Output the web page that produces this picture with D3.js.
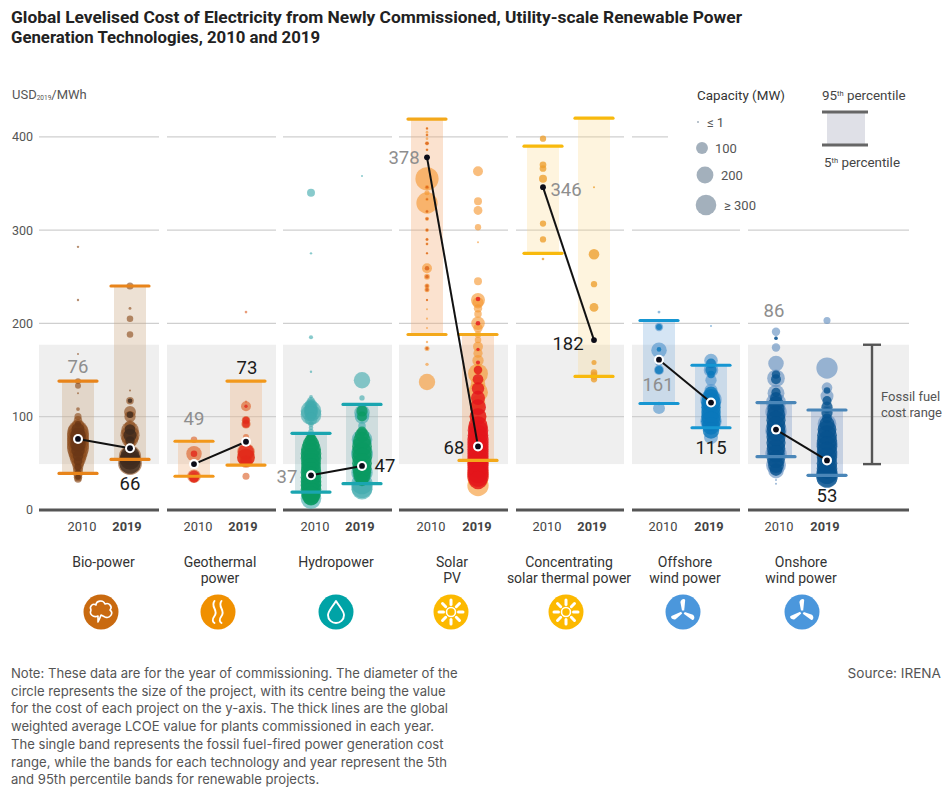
<!DOCTYPE html>
<html><head><meta charset="utf-8">
<script src="https://cdn.jsdelivr.net/npm/d3@7/dist/d3.min.js"></script>
<style>
html,body{margin:0;padding:0;background:#fff}
svg{display:block}
text{font-family:Roboto,"Noto Sans",sans-serif}
</style></head><body><div id="c"></div>
<script>
const technologies = ["Bio-power","Geothermal power","Hydropower","Solar PV","Concentrating solar thermal power","Offshore wind power","Onshore wind power"];
const techLabels = [["Bio-power"],["Geothermal","power"],["Hydropower"],["Solar","PV"],["Concentrating","solar thermal power"],["Offshore","wind power"],["Onshore","wind power"]];
const years = ["2010","2019"];
const yTicks = [0,100,200,300,400];
const fossilRange = [49,177];
// weighted averages [2010, 2019]
const average = [[76,66],[49,73],[37,47],[378,68],[346,182],[161,115],[86,53]];
// 5th / 95th percentiles [[p5,p95] 2010, [p5,p95] 2019]
const percentiles = [
 [[39,138],[54,240]],
 [[36,73.5],[48,138]],
 [[19,82],[28,113]],
 [[188,419],[53,188]],
 [[275,390],[143,420]],
 [[114,203],[88,155]],
 [[57,115],[37,107]]
];
// project points: [LCOE, capacity MW]
const bio2010 = [[282,4],[225,4],[167,2],[138,25],[133,25],[125,2],[108,10],[100,35],[96,50],[90,120],[85,280],[82,340],[78,340],[74,340],[70,340],[66,340],[62,280],[58,220],[54,170],[50,110],[46,80],[42,70],[38,60],[35,50],[33,40]];
const bio2010Core = [[92,25],[86,120],[80,170],[76,170],[70,170],[64,130],[58,80],[52,50],[46,35],[40,25],[35,20]];
const bio2019 = [[240,35],[216,6],[205,30],[188,30],[128,3],[117,40],[105,100],[100,90],[90,90],[85,220],[80,260],[76,200],[72,90],[68,40],[62,80],[57,350],[50,400]];
const bio2019Core = [[117,15],[102,30],[86,80],[80,120],[74,60],[58,260],[54,300],[50,320]];
const geo2010 = [[75,30],[60,170],[50,8],[47,6],[36,130]];
const geo2010Core = [[60,30],[36,90],[34,60]];
const geo2019 = [[212,5],[116,3],[111,70],[96,50],[92,60],[78,25],[62,220],[56,220],[52,120],[36,35]];
const geo2019Core = [[111,8],[96,35],[92,40],[62,180],[56,220],[52,90]];
const hydro2010 = [[340,45],[275,4],[185,12],[148,4],[121,10],[117,40],[112,120],[106,300],[102,300],[98,120],[92,20],[88,15],[84,20],[80,30],[112,80],[108,120],[106,140],[104,120],[100,60],[12,300]];
const hydro2010Core = [[78,60],[74,120],[70,200],[65,280],[60,300],[55,300],[50,280],[45,280],[40,300],[35,300],[30,300],[26,300],[22,300],[18,280],[15,240],[13,170]];
const hydro2019 = [[358,1],[139,190],[120,20],[108,60],[104,170],[100,150],[90,40],[28,320],[24,320],[22,300],[40,320],[60,340],[75,300]];
const hydro2019Core = [[106,90],[100,70],[84,70],[80,140],[74,230],[68,280],[62,280],[56,280],[50,280],[44,260],[40,240],[36,200],[32,110]];
const solar2010 = [[409,5],[405,5],[402,6],[398,5],[393,12],[386,6],[355,380],[346,14],[340,18],[333,8],[329,320],[320,8],[312,12],[300,10],[290,7],[285,6],[275,4],[259,70],[250,25],[240,18],[236,18],[225,4],[215,3],[205,3],[195,3],[188,4],[180,4],[173,18],[156,8],[137,190]];
const solar2010Core = [[409,2],[402,3],[393,8],[386,3],[346,6],[333,3],[320,4],[312,6],[300,5],[290,4],[285,3],[275,2],[259,14],[250,10],[240,8],[236,8],[225,2],[173,6]];
const solar2019 = [[363,70],[331,45],[321,55],[303,28],[287,1],[245,45],[225,140],[222,90],[216,50],[210,40],[200,130],[195,60],[188,30],[182,30],[175,70],[168,60],[160,90],[150,60],[146,280],[126,280],[135,150],[115,150],[110,150],[100,200],[90,250],[50,320],[40,320],[34,320],[26,320]];
const solar2019Core = [[226,15],[200,15],[172,8],[158,12],[150,50],[140,80],[130,110],[120,140],[110,180],[100,200],[90,260],[85,300],[80,300],[75,320],[70,320],[65,320],[60,320],[55,320],[50,320],[45,320],[40,320],[36,320],[32,240]];
const csp2010 = [[398,28],[370,32],[366,32],[355,45],[307,28],[290,28],[269,5]];
const csp2010Core = [];
const csp2019 = [[346,2],[274,80],[242,28],[217,55],[158,18],[147,32],[145,28],[143,32],[140,28]];
const csp2019Core = [];
const off2010 = [[212,6],[196,50],[171,170],[158,40],[150,70],[109,100]];
const off2010Core = [[196,25],[172,15],[150,45],[114,8]];
const off2019 = [[197,1],[160,130],[150,150],[139,90],[128,120],[118,320],[95,320],[78,140]];
const off2019Core = [[157,70],[150,90],[145,40],[125,130],[120,220],[115,270],[110,270],[105,270],[100,270],[95,270],[90,220],[85,190]];
const on2010 = [[191,50],[184,10],[174,50],[157,170],[141,220],[125,200],[115,280],[105,320],[85,320],[60,320],[48,280],[42,170],[32,1],[28,3]];
const on2010Core = [[184,8],[145,50],[140,70],[126,60],[120,100],[114,160],[108,210],[102,240],[96,260],[90,260],[84,260],[78,260],[72,260],[66,240],[60,220],[54,220],[48,180],[43,110]];
const on2019 = [[203,35],[152,320],[131,80],[122,120],[108,40],[92,250],[70,330],[60,320],[36,320]];
const on2019Core = [[128,30],[117,60],[110,90],[104,90],[98,70],[92,160],[86,250],[80,280],[74,290],[68,290],[62,290],[56,290],[50,300],[44,300],[39,320],[35,320]];
const projects = [[bio2010,bio2019],[geo2010,geo2019],[hydro2010,hydro2019],[solar2010,solar2019],[csp2010,csp2019],[off2010,off2019],[on2010,on2019]];
const projectsCore = [[bio2010Core,bio2019Core],[geo2010Core,geo2019Core],[hydro2010Core,hydro2019Core],[solar2010Core,solar2019Core],[csp2010Core,csp2019Core],[off2010Core,off2019Core],[on2010Core,on2019Core]];
const legendCaps = [1,100,200,300];
const legendLabels = ["≤ 1","100","200","≥ 300"];
const titleLines = ["Global Levelised Cost of Electricity from Newly Commissioned, Utility-scale Renewable Power","Generation Technologies, 2010 and 2019"];
const noteLines = [
"Note: These data are for the year of commissioning. The diameter of the",
"circle represents the size of the project, with its centre being the value",
"for the cost of each project on the y-axis. The thick lines are the global",
"weighted average LCOE value for plants commissioned in each year.",
"The single band represents the fossil fuel-fired power generation cost",
"range, while the bands for each technology and year represent the 5th",
"and 95th percentile bands for renewable projects."];

// layout & style
const W=942,H=791;
const panelX=[[39,159],[167,276],[283,392],[399,508],[516,624],[632,740],[748,909]];
const colX=[[78,130],[194,246],[311,362],[427,478],[543,594],[659,711],[776,827]];
const yearX=[[82,127],[198,243],[315,360],[431,477],[547,592],[663,709],[779,825]];
const labelX=[103.5,220,336,452,569,685,801];
const iconX=[101,218,336,451,566,683,802];
const haloCol=["#8a4a1a","#dc5f26","#3fa9ad","#f5962e","#eda02f","#4f93cc","#5f8dbf"];
const coreCol=[["#6a3716","#3f2a1e"],["#e2291a","#e2291a"],["#0a9a62","#0a9a62"],["#d9601a","#e3151c"],["#eda02f","#eda02f"],["#0a78bb","#0a78bb"],["#07528f","#07528f"]];
const bandCol=["#c8a47c","#f0b07c","#8fb8bd","#f4a86e","#fbd98a","#7fb1de","#6f93c4"];
const capCol=["#e8841a","#f2981b","#1aa5b0","#f3a81a","#f8b90c","#1696d2","#4a86b8"];
const iconCol=["#c96a10","#f09000","#00a3a6","#fcb900","#fcb900","#4b97dc","#4b97dc"];
const valueLabelPos=[[[78,372.5],[130,490]],[[194,425],[247,373.5]],[[287,482.5],[385,471.5]],[[404,163.5],[454,454]],[[566,195.5],[568,349.5]],[[658,391],[711,454]],[[774,317],[827,502]]];
const ringed=[[1,1],[1,1],[1,1],[0,1],[0,0],[1,1],[1,1]];

const svg=d3.select("#c").append("svg").attr("width",W).attr("height",H);
const y=d3.scaleLinear().domain([0,400]).range([509.8,136.8]);
const r=d3.scaleSqrt().domain([0,300]).range([0,10.3]);
const rad=c=>Math.max(1,r(c));

// title
const titleWidth=[731,309];
svg.selectAll("text.title").data(titleLines).join("text")
 .attr("class","title").attr("x",11).attr("y",(d,i)=>22.5+i*20.8)
 .attr("textLength",(d,i)=>titleWidth[i]).attr("lengthAdjust","spacingAndGlyphs")
 .style("font-weight",700).style("font-size","17.4px").attr("fill","#222").text(d=>d);

// unit
const u=svg.append("text").attr("x",12).attr("y",99).attr("fill","#555").style("font-size","13px");
u.append("tspan").text("USD");
u.append("tspan").style("font-size","6.5px").attr("dy",1).text("2019");
u.append("tspan").attr("dy",-1).text("/MWh");

// panels
technologies.forEach((t,i)=>{
 const [x0,x1]=panelX[i];
 const g=svg.append("g");
 g.append("rect").attr("x",x0).attr("width",x1-x0).attr("y",y(fossilRange[1])).attr("height",y(fossilRange[0])-y(fossilRange[1])).attr("fill","#efefef");
 const ticks=yTicks.filter(v=>v>0&&!(i==6&&v==400));
 g.selectAll("line.grid").data(ticks).join("line").attr("class","grid")
  .attr("x1",x0).attr("x2",d=>(i==5&&d==400)?668:x1).attr("y1",d=>y(d)).attr("y2",d=>y(d))
  .attr("stroke","#cfcfcf").attr("stroke-width",1.3);
 g.append("line").attr("x1",x0).attr("x2",x1).attr("y1",510).attr("y2",510).attr("stroke","#555").attr("stroke-width",3);
});

// y axis
const ax=svg.append("g").attr("transform","translate(33,0)").call(d3.axisLeft(y).tickValues(yTicks).tickSize(0).tickPadding(0));
ax.select(".domain").remove();
ax.selectAll("text").attr("fill","#555").style("font-size","12.5px").style("font-family","Roboto,sans-serif");

// bands, dots, caps
technologies.forEach((t,i)=>{
 const g=svg.append("g");
 years.forEach((yr,j)=>{
  const cx=colX[i][j],[p5,p95]=percentiles[i][j];
  g.append("rect").attr("x",cx-16).attr("width",32).attr("y",y(p95)).attr("height",y(p5)-y(p95)).attr("fill",bandCol[i]).attr("opacity",i==4?.28:.33);
  g.selectAll(null).data(projects[i][j]).join("circle").attr("cx",cx).attr("cy",d=>y(d[0])).attr("r",d=>rad(d[1])).attr("fill",haloCol[i]).attr("opacity",i==4?.8:.62);
  g.selectAll(null).data(projectsCore[i][j]).join("circle").attr("cx",cx).attr("cy",d=>y(d[0])).attr("r",d=>rad(d[1])).attr("fill",coreCol[i][j]).attr("opacity",.8);
  g.selectAll(null).data([p5,p95]).join("line").attr("x1",cx-19).attr("x2",cx+19).attr("y1",d=>y(d)).attr("y2",d=>y(d)).attr("stroke",capCol[i]).attr("stroke-width",3.2).attr("stroke-linecap","round");
 });
});

// averages
technologies.forEach((t,i)=>{
 const g=svg.append("g");
 const a=average[i];
 g.append("line").attr("x1",colX[i][0]).attr("x2",colX[i][1]).attr("y1",y(a[0])).attr("y2",y(a[1])).attr("stroke","#111").attr("stroke-width",2);
 years.forEach((yr,j)=>{
  if(ringed[i][j]) g.append("circle").attr("cx",colX[i][j]).attr("cy",y(a[j])).attr("r",5).attr("fill","#fff");
  g.append("circle").attr("cx",colX[i][j]).attr("cy",y(a[j])).attr("r",2.9).attr("fill","#0c0c18");
  g.append("text").attr("x",valueLabelPos[i][j][0]).attr("y",valueLabelPos[i][j][1]).attr("text-anchor","middle")
   .attr("fill",j==0?"#8e8e8e":"#1c1c1c").style("font-size","18.5px").text(a[j]);
  svg.append("text").attr("x",yearX[i][j]).attr("y",531).attr("text-anchor","middle").attr("fill","#444").style("font-weight",j?700:400).style("font-size","12.8px").text(yr);
 });
 techLabels[i].forEach((l,k)=>svg.append("text").attr("x",labelX[i]).attr("y",566.5+k*16.4).attr("text-anchor","middle").attr("fill","#333").style("font-size","14px").text(l));
});

// icons
const icon=(i)=>{
 const g=svg.append("g").attr("transform",`translate(${iconX[i]},612)`);
 g.append("circle").attr("r",17.5).attr("fill",iconCol[i]);
 const s=(sel)=>sel.attr("fill","none").attr("stroke","#fff").attr("stroke-width",1.6).attr("stroke-linecap","round").attr("stroke-linejoin","round");
 if(i==0){
  s(g.append("path")).attr("d","M-3,10 L-3,4 C-8,6 -12,2 -10,-2 C-12,-6 -8,-9 -5,-7 C-5,-11 2,-13 4,-8 C8,-10 12,-5 9,-2 C13,1 9,7 4,5 L0,3 C-1,6 -2,8 -3,10Z");
 } else if(i==1){
  s(g.append("path")).attr("stroke-width",1.9).attr("d","M-3.5,-11 C-8,-5 1,-2 -3.5,4 C-6.5,8 -5,10 -3.5,11 M3.5,-11 C-1,-5 8,-2 3.5,4 C0.5,8 2,10 3.5,11");
 } else if(i==2){
  s(g.append("path")).attr("stroke-width",1.9).attr("d","M0,-11 C3,-6 8,-1 8,3 C8,8 4,11 0,11 C-4,11 -8,8 -8,3 C-8,-1 -3,-6 0,-11Z");
 } else if(i==3||i==4){
  s(g.append("circle")).attr("r",4.5);
  d3.range(8).forEach(k=>{
   s(g.append("line")).attr("x1",0).attr("x2",0).attr("y1",-7.5).attr("y2",-12).attr("stroke-width",3).attr("transform",`rotate(${k*45})`);
  });
 } else {
  [0,120,240].forEach(a=>g.append("path").attr("d","M-1,-1.5 L-2.6,-10 C-2,-13 1.5,-14 2.2,-12 L1.2,-1.5Z").attr("fill","#fff").attr("transform",`rotate(${a})`));
 }
};
technologies.forEach((t,i)=>icon(i));

// legend
svg.append("text").attr("x",697).attr("y",100).attr("fill","#333").style("font-size","13.4px").text("Capacity (MW)");
const legendPos=[[698,122,707],[702,148,715],[705,175,721],[706,205,724]];
legendCaps.forEach((c,i)=>{
 svg.append("circle").attr("cx",legendPos[i][0]).attr("cy",legendPos[i][1]).attr("r",rad(c)).attr("fill","#9eacb8").attr("opacity",.95);
 svg.append("text").attr("x",legendPos[i][2]).attr("y",legendPos[i][1]+4.5).attr("fill","#555").style("font-size","13px").text(legendLabels[i]);
});
const pct=(x,yy,a)=>{const t=svg.append("text").attr("x",x).attr("y",yy).attr("fill","#444").style("font-size","13.4px");
 t.append("tspan").text(a);t.append("tspan").attr("dy",-4).style("font-size","7.5px").text("th");t.append("tspan").attr("dy",4).text(" percentile");};
pct(822,100,"95");
pct(824,167,"5");
svg.append("rect").attr("x",827).attr("y",112).attr("width",38).attr("height",33).attr("fill","#dfe0e7");
[112,145].forEach(v=>svg.append("line").attr("x1",822).attr("x2",868).attr("y1",v).attr("y2",v).attr("stroke","#666").attr("stroke-width",3.2));

// fossil bracket
const bx=872;
svg.append("line").attr("x1",bx).attr("x2",bx).attr("y1",y(fossilRange[1])).attr("y2",y(fossilRange[0])).attr("stroke","#555").attr("stroke-width",2.4);
fossilRange.forEach(v=>svg.append("line").attr("x1",bx-9).attr("x2",bx+9).attr("y1",y(v)).attr("y2",y(v)).attr("stroke","#555").attr("stroke-width",2.4));
["Fossil fuel","cost range"].forEach((l,i)=>svg.append("text").attr("x",881).attr("y",401+i*16).attr("fill","#555").style("font-size","13px").text(l));

// note
svg.selectAll("text.note").data(noteLines).join("text").attr("class","note").attr("x",11).attr("y",(d,i)=>678+i*17.7).attr("fill","#555").style("font-family","Inter,Roboto,sans-serif").style("font-size","13.1px").text(d=>d);
svg.append("text").attr("x",941).attr("y",678).attr("text-anchor","end").attr("fill","#555").style("font-family","Inter,Roboto,sans-serif").style("font-size","13.6px").text("Source: IRENA");
</script></body></html>
